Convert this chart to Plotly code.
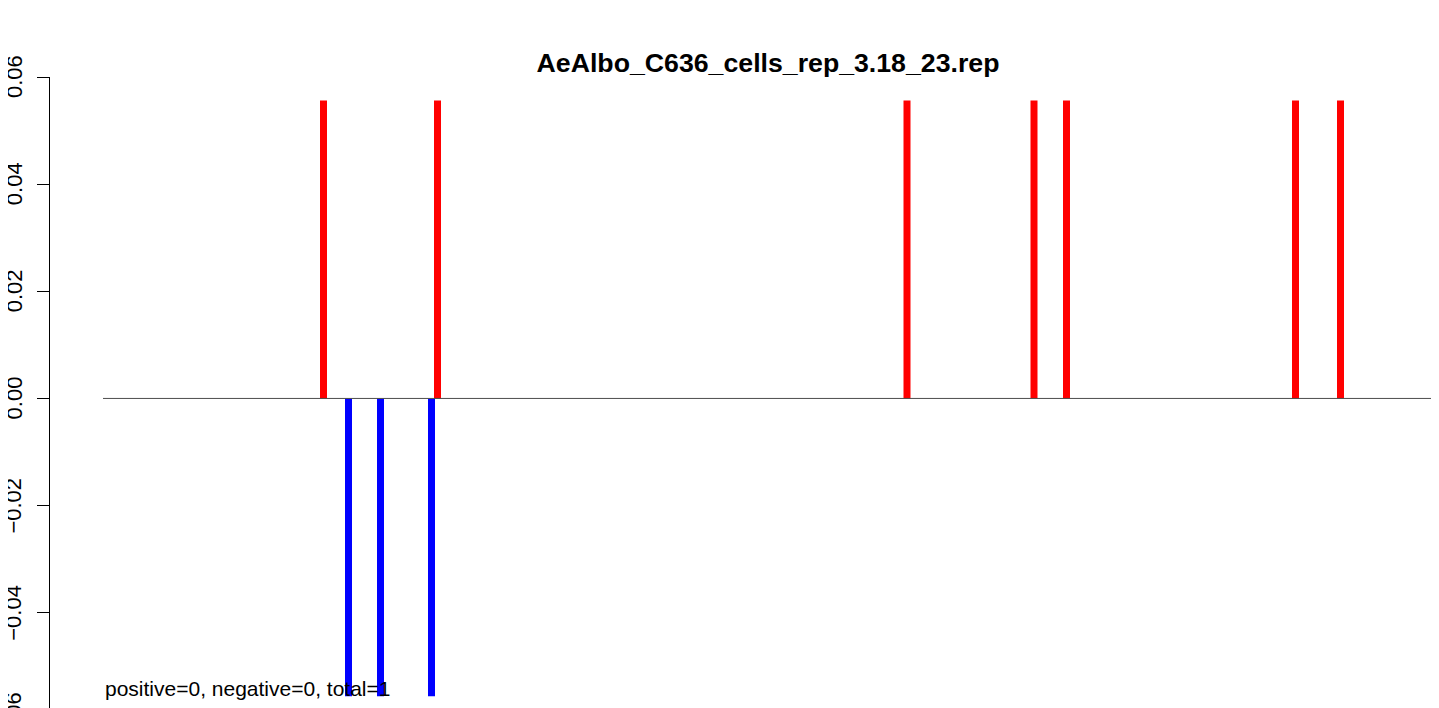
import plotly.graph_objects as go

# ---- data ----
title_text = "AeAlbo_C636_cells_rep_3.18_23.rep"
pos_positions = [220.5, 334.5, 804.0, 931.0, 963.5, 1192.5, 1237.5]
pos_values = [0.0556, 0.0556, 0.0556, 0.0556, 0.0556, 0.0556, 0.0556]
neg_positions = [245.5, 277.5, 328.5]
neg_values = [-0.0556, -0.0556, -0.0556]
line_span = [0.0, 1329.0]
y_tick_values = [-0.06, -0.04, -0.02, 0.00, 0.02, 0.04, 0.06]
y_tick_labels = ["\u22120.06", "\u22120.04", "\u22120.02", "0.00", "0.02", "0.04", "0.06"]
summary_text = "positive=0, negative=0, total=1"

FONT = "Liberation Sans, Arial, Helvetica, sans-serif"
# page body has an 8px margin; size the figure so it ends at the window edge
W, H = 1431, 700
L_MARGIN = 42
T_MARGIN = 69

fig = go.Figure()

# zero line
fig.add_trace(go.Scatter(
    x=line_span, y=[0, 0], mode="lines",
    line=dict(color="#4d4d4d", width=1), hoverinfo="skip", showlegend=False,
))

fig.add_trace(go.Bar(
    x=pos_positions, y=pos_values, base=0, width=7,
    marker=dict(color="#ff0000", line=dict(width=0)), showlegend=False,
))
fig.add_trace(go.Bar(
    x=neg_positions, y=neg_values, width=7,
    marker=dict(color="#0000ff", line=dict(width=0)), showlegend=False,
))

x_range = [-53.0, W - L_MARGIN - 53.0]
y_range = [-0.05778, 0.06]

fig.update_layout(
    width=W, height=H,
    margin=dict(l=L_MARGIN, r=0, t=T_MARGIN, b=0, pad=0, autoexpand=False),
    paper_bgcolor="white", plot_bgcolor="white",
    barmode="overlay",
    font=dict(family=FONT, color="black"),
    xaxis=dict(range=x_range, visible=False, fixedrange=True),
    yaxis=dict(
        range=y_range, showgrid=False, zeroline=False,
        showline=True, linecolor="black", linewidth=1,
        ticks="outside", ticklen=12, tickwidth=1, tickcolor="black",
        tickvals=y_tick_values, showticklabels=False, automargin=False,
    ),
    title=dict(
        text="<b>" + title_text + "</b>",
        x=760 / W, xref="container", xanchor="center",
        y=1 - 54.5 / H, yref="container", yanchor="middle",
        font=dict(family=FONT, size=26.7, color="black"),
    ),
    showlegend=False,
)

# y tick labels, rotated as in the original (placed in paper coordinates so
# that labels beyond the visible range, like -0.06, still show partially)
span = y_range[1] - y_range[0]
for v, lab in zip(y_tick_values, y_tick_labels):
    fig.add_annotation(
        x=0, xref="paper", y=(v - y_range[0]) / span, yref="paper",
        text=lab, showarrow=False,
        textangle=-90, xanchor="center", yanchor="middle", xshift=-36,
        font=dict(family=FONT, size=22, color="black"),
    )

fig.add_annotation(
    x=line_span[0], xref="x", y=neg_values[0], yref="y", text=summary_text,
    showarrow=False, xanchor="left", yanchor="bottom", yshift=-6,
    font=dict(family=FONT, size=21, color="black"),
)

fig.write_html("out.html")
